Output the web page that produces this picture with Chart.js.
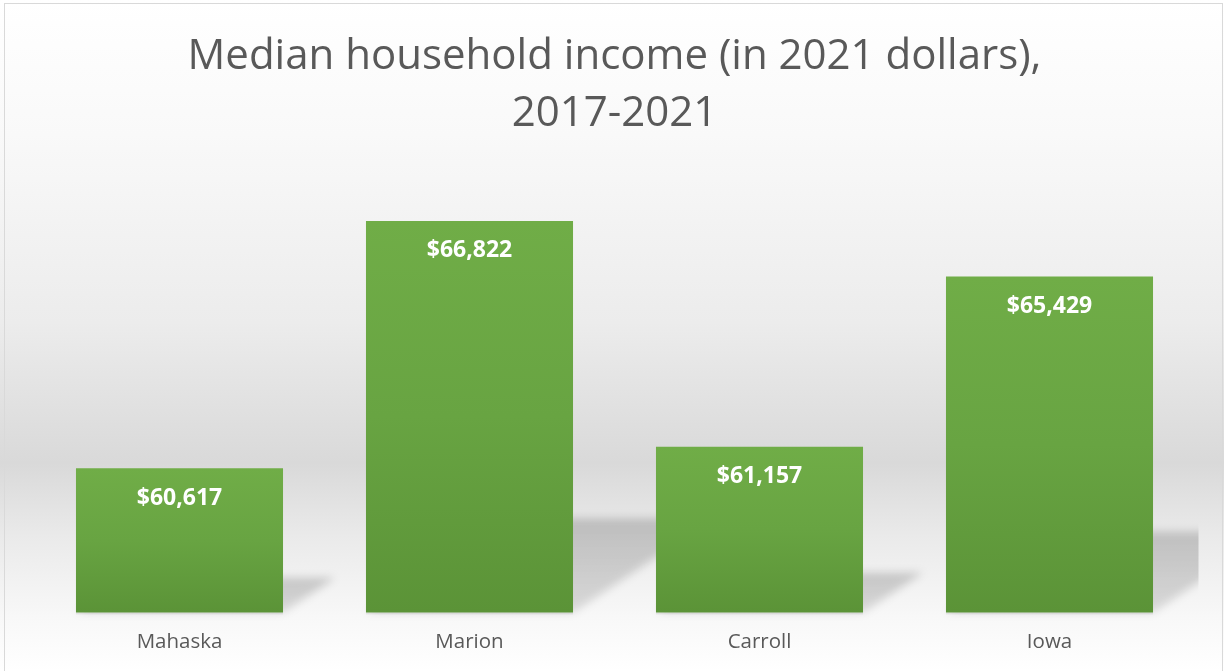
<!DOCTYPE html>
<html>
<head>
<meta charset="utf-8">
<script src="https://cdn.jsdelivr.net/npm/chart.js@4/dist/chart.umd.min.js"></script>
<style>
  html, body { margin: 0; padding: 0; background: #ffffff; }
  #wrap { width: 1224px; height: 671px; position: relative; }
</style>
</head>
<body>
<div id="wrap"><canvas id="c" width="1224" height="671"></canvas></div>
<script>
// Median household income, 2017-2021 (in 2021 dollars)
const titleLines = ["Median household income (in 2021 dollars),", "2017-2021"];
const counties = ["Mahaska", "Marion", "Carroll", "Iowa"];
const incomes = [60617, 66822, 61157, 65429];
const axisMin = 57000;
const axisMax = 68000;

const fmtDollars = v => "$" + v.toLocaleString("en-US");

// Panel background: soft vertical grey band behind the bars, thin frame
const panelBackground = {
  id: "panelBackground",
  beforeDraw(chart) {
    const { ctx, width, height } = chart;
    ctx.save();
    const g = ctx.createLinearGradient(0, 0, 0, height);
    g.addColorStop(0.00, "#ffffff");
    g.addColorStop(0.20, "#f9f9f9");
    g.addColorStop(0.48, "#ececec");
    g.addColorStop(0.69, "#d9d9d9");
    g.addColorStop(0.80, "#eaeaea");
    g.addColorStop(0.92, "#f8f8f8");
    g.addColorStop(1.00, "#ffffff");
    ctx.fillStyle = g;
    ctx.fillRect(0, 0, width, height);
    ctx.strokeStyle = "#d9d9d9";
    ctx.lineWidth = 1;
    ctx.strokeRect(4.5, 3.5, width - 6, height - 3);
    ctx.restore();
  }
};

// Perspective shadow cast up and to the right of each bar
const barShadows = {
  id: "barShadows",
  beforeDatasetsDraw(chart) {
    const { ctx, chartArea } = chart;
    const meta = chart.getDatasetMeta(0);
    ctx.save();
    ctx.beginPath();
    ctx.rect(0, 0, chartArea.right + 4, chart.height);
    ctx.clip();
    meta.data.forEach(el => {
      const bar = el.getProps(["x", "y", "base", "width"], true);
      const base = Math.min(bar.base, chartArea.bottom);
      const left = bar.x - bar.width / 2;
      const right = bar.x + bar.width / 2;
      const h = base - bar.y;
      const top = base - h * 0.24;
      const dx = h * 0.36;
      const g = ctx.createLinearGradient(0, top, 0, base);
      g.addColorStop(0, "rgba(0,0,0,0.18)");
      g.addColorStop(1, "rgba(0,0,0,0.12)");
      ctx.save();
      ctx.filter = "blur(4px)";
      ctx.fillStyle = g;
      ctx.beginPath();
      ctx.moveTo(left, base);
      ctx.lineTo(right, base);
      ctx.lineTo(right + dx, top);
      ctx.lineTo(left + dx, top);
      ctx.closePath();
      ctx.fill();
      ctx.restore();
      // faint contact line under the bar
      ctx.fillStyle = "rgba(0,0,0,0.07)";
      ctx.fillRect(left, base, bar.width, 2);
    });
    ctx.restore();
  }
};

// Value labels inside the top of each bar
const valueLabels = {
  id: "valueLabels",
  afterDatasetsDraw(chart) {
    const { ctx } = chart;
    const meta = chart.getDatasetMeta(0);
    ctx.save();
    ctx.fillStyle = "#ffffff";
    ctx.font = "bold 23px 'Open Sans'";
    ctx.textAlign = "center";
    ctx.textBaseline = "middle";
    meta.data.forEach((el, i) => {
      const bar = el.getProps(["x", "y"], true);
      ctx.fillText(fmtDollars(incomes[i]), bar.x, bar.y + 30);
    });
    ctx.restore();
  }
};

new Chart(document.getElementById("c"), {
  type: "bar",
  data: {
    labels: counties,
    datasets: [{
      data: incomes,
      borderWidth: 0,
      barPercentage: 0.714,
      categoryPercentage: 1.0,
      backgroundColor(context) {
        const chart = context.chart;
        const area = chart.chartArea;
        if (!area || context.dataIndex === undefined) return "#66a13f";
        const y = chart.scales.y;
        const v = context.raw;
        const top = y.getPixelForValue(v);
        const base = y.getPixelForValue(axisMin);
        const g = chart.ctx.createLinearGradient(0, top, 0, base);
        g.addColorStop(0, "#70ad47");
        g.addColorStop(0.5, "#68a442");
        g.addColorStop(1, "#5b9337");
        return g;
      }
    }]
  },
  options: {
    responsive: false,
    animation: false,
    layout: { padding: { left: 34.5, right: 29.5, top: 0, bottom: 0 } },
    plugins: {
      legend: { display: false },
      tooltip: { enabled: false },
      title: {
        display: true,
        text: titleLines,
        color: "#595959",
        font: { family: "'Open Sans'", size: 42, weight: "normal", lineHeight: 57 / 42 },
        padding: { top: 29, bottom: 31 }
      }
    },
    scales: {
      x: {
        grid: { display: false, drawTicks: false },
        border: { display: false },
        ticks: { color: "#595959", font: { family: "'Open Sans'", size: 20.5 }, padding: 17 }
      },
      y: {
        display: false,
        min: axisMin,
        max: axisMax
      }
    }
  },
  plugins: [panelBackground, barShadows, valueLabels]
});
</script>
</body>
</html>
